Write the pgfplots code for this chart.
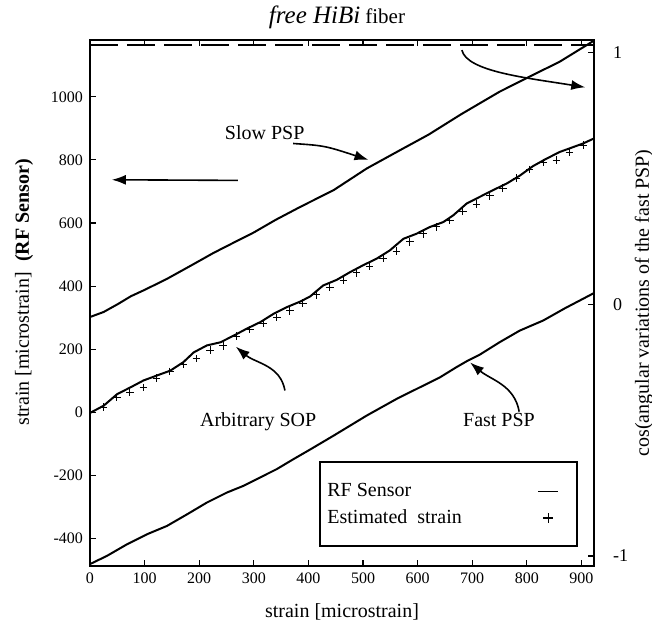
\documentclass[border=0pt]{standalone}
\usepackage{fontspec}
\setmainfont{Liberation Serif}
\usepackage{pgfplots}
\pgfplotsset{compat=1.18}
\usetikzlibrary{arrows.meta}
\pgfplotsset{
  lineimg/.style={legend image code/.code={\draw[##1] (0pt,0pt) -- (10pt,0pt);}},
  markimg/.style={legend image code/.code={\draw[##1, only marks] plot coordinates {(5pt,0pt)};}},
}
\begin{document}
\begin{tikzpicture}
\begin{axis}[
  name=main,
  scale only axis, width=252pt, height=263pt,
  xmin=0, xmax=923, ymin=-487, ymax=1180,
  xtick={0,100,...,900}, ytick={-400,-200,...,1000},
  ytick pos=left, xtick pos=both,
  tick align=inside, major tick length=3pt,
  tick style={black, line width=0.6pt},
  axis line style={line width=0.7pt},
  /pgf/number format/assume math mode=true,
  /pgf/number format/1000 sep={},
  ticklabel style={font=\fontsize{8}{9.5}\selectfont},
  xlabel={strain [microstrain]},
  ylabel={strain [microstrain]\ \ \textbf{(RF Sensor)}},
  label style={font=\fontsize{10}{12}\selectfont},
  xlabel style={at={([yshift=-23pt]rel axis cs:0.5,0)}, anchor=center},
  ylabel style={at={([xshift=-33pt]rel axis cs:0,0.52)}, anchor=center},
  legend plot pos=right, legend cell align=left,
  legend style={at={(rel axis cs:0.4623,0.1635)}, anchor=north west, draw=none, fill=none,
    inner sep=0pt, row sep=2pt, font=\fontsize{10}{12}\selectfont,
    nodes={inner ysep=1.5pt, inner xsep=2pt}},
  clip=false,
]
% Slow PSP
\addplot[black, line width=1pt, forget plot] coordinates {
(0,302) (25,318) (50,342) (75,368) (100,388) (141,423) (190,470) (226,505) (260,535)
(300,570) (340,610) (385,651) (446,704) (507,773) (568,831) (620,880) (680,945)
(750,1016) (811,1069) (860,1111) (923,1178)};
% Arbitrary SOP
\addplot[black, line width=1pt, forget plot] coordinates {
(0,-2) (25,21) (50,58) (74,79) (98,101) (123,117) (147,132) (171,159) (190,190)
(214,212) (239,222) (263,243) (287,265) (312,286) (336,312) (360,333) (385,351)
(403,367) (427,402) (452,420) (476,444) (500,466) (525,487) (549,513) (574,550)
(598,566) (622,587) (647,603) (665,624) (690,662) (714,683) (738,704) (763,725)
(787,750) (811,780) (835,803) (860,825) (903,852) (923,868)};
% Fast PSP
\addplot[black, line width=1pt, forget plot] coordinates {
(0,-481) (31,-455) (68,-418) (105,-386) (141,-360) (178,-323) (214,-286) (251,-254)
(281,-233) (312,-206) (342,-180) (373,-148) (403,-118) (446,-74) (507,-10) (562,43)
(598,74) (641,111) (671,143) (690,162) (714,183) (750,222) (787,259) (830,291)
(870,330) (923,378)};
% Estimated strain
\addplot[black, only marks, mark=+, mark size=1.9pt, line width=0.5pt, forget plot] coordinates {
(24,16) (49,47) (73,64) (98,79) (122,108) (146,130) (171,151) (195,170) (220,197)
(244,211) (268,241) (293,262) (317,282) (342,301) (366,322) (390,346) (415,372)
(439,396) (464,418) (488,442) (512,463) (537,489) (561,511) (586,540) (610,566)
(634,588) (659,608) (683,638) (708,660) (732,686) (756,710) (781,742) (805,770)
(830,792) (854,799) (878,825) (903,847)};
\addlegendimage{black, line width=0.8pt, lineimg}
\addlegendentry{\makebox[103pt][l]{RF Sensor}}
\addlegendimage{black, line width=0.6pt, mark=+, mark size=2.5pt, markimg}
\addlegendentry{\makebox[103pt][l]{Estimated\ \ strain}}
% legend frame
\draw[black, line width=0.6pt] (rel axis cs:0.4563,0.038) rectangle (rel axis cs:0.9663,0.1977);
% title
\node[anchor=center] at ([yshift=11.5pt]rel axis cs:0.49,1) {{\fontsize{12.5}{14}\selectfont\itshape free HiBi} {\fontsize{10.5}{12}\selectfont fiber}};
% annotations
\node[font=\fontsize{10}{12}\selectfont] at (axis cs:320,887) {Slow PSP};
\draw[black, line width=0.8pt, -{Latex[length=7pt,width=5pt]}] (axis cs:372,852) .. controls (axis cs:430,845) .. (axis cs:510,800);
\draw[black, line width=0.8pt, -{Latex[length=7pt,width=5pt]}] (axis cs:681,1148) .. controls (axis cs:690,1080) and (axis cs:800,1060) .. (axis cs:907,1030);
\draw[black, line width=0.8pt, -{Latex[length=7pt,width=5pt]}] (axis cs:271,735) -- (axis cs:40,737);
\node[font=\fontsize{10}{12}\selectfont] at (axis cs:308,-29) {Arbitrary SOP};
\draw[black, line width=0.8pt, -{Latex[length=7pt,width=5pt]}] (axis cs:357,69) to[out=100, in=-40] (axis cs:267,208);
\node[font=\fontsize{10}{12}\selectfont] at (axis cs:749,-23) {Fast PSP};
\draw[black, line width=0.8pt, -{Latex[length=7pt,width=5pt]}] (axis cs:786,2) to[out=100, in=-40] (axis cs:696,158);
\coordinate (BL) at (rel axis cs:0,0);
\coordinate (TR) at (rel axis cs:1,1);
\end{axis}
\begin{axis}[
  scale only axis, width=252pt, height=263pt,
  xmin=0, xmax=923, ymin=-1.04, ymax=1.05,
  axis x line=none, axis y line*=right,
  ytick={-1,0,1},
  tick align=inside, major tick length=3pt,
  tick style={black, line width=0.6pt},
  axis line style={line width=0.7pt},
  /pgf/number format/assume math mode=true,
  yticklabel style={font=\fontsize{9}{11}\selectfont, xshift=6pt},
  ylabel={cos(angular variations of the fast PSP)},
  ylabel style={font=\fontsize{10}{12}\selectfont, at={([xshift=25pt]rel axis cs:1,0.5)}, anchor=center},
]
\addplot[black, line width=0.9pt, dash pattern=on 14pt off 4.5pt] coordinates {(0,1.03) (923,1.03)};
\end{axis}
\pgfresetboundingbox
\path ([shift={(-45pt,-31.5pt)}]BL) rectangle ([shift={(29pt,20pt)}]TR);
\end{tikzpicture}
\end{document}
